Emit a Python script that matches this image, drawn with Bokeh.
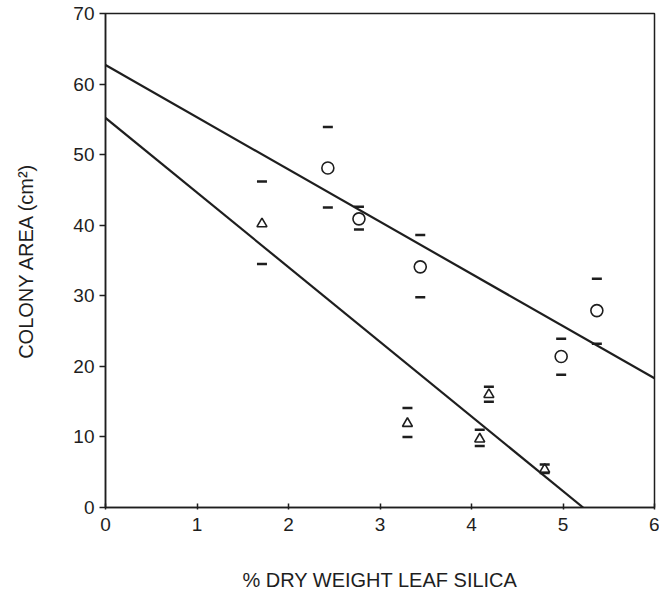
from bokeh.plotting import figure
from bokeh.embed import file_html
from bokeh.resources import INLINE
from bokeh.models import Range1d, FixedTicker

# Circle series (open circles)
circ_x = [2.43, 2.77, 3.44, 4.98, 5.37]
circ_y = [48.1, 40.9, 34.1, 21.4, 27.9]
circ_hi = [53.9, 42.6, 38.6, 23.9, 32.4]
circ_lo = [42.5, 39.4, 29.8, 18.8, 23.2]

# Triangle series (open triangles)
tri_x = [1.71, 3.30, 4.09, 4.19, 4.80]
tri_y = [40.2, 11.9, 9.7, 16.0, 5.4]
tri_hi = [46.2, 14.1, 11.0, 17.1, 6.1]
tri_lo = [34.5, 10.0, 8.7, 15.0, 4.9]

# Regression lines
upper_line_x = [0, 6]
upper_line_y = [62.7, 18.3]
lower_line_x = [0, 5.22]
lower_line_y = [55.2, 0]

x_ticks = [0, 1, 2, 3, 4, 5, 6]
y_ticks = [0, 10, 20, 30, 40, 50, 60, 70]

ink = "#1e1e1e"
font = "Liberation Sans"

p = figure(frame_width=549, frame_height=494, output_backend="svg",
           toolbar_location=None, x_range=Range1d(0, 6), y_range=Range1d(0, 70),
           min_border_left=105, min_border_top=13, min_border_right=5, min_border_bottom=85)
p.background_fill_color = "white"
p.border_fill_color = "white"
p.outline_line_color = ink
p.outline_line_width = 1.5
p.grid.visible = False

p.line(upper_line_x, upper_line_y, line_color=ink, line_width=2.2)
p.line(lower_line_x, lower_line_y, line_color=ink, line_width=2.2)

p.scatter(circ_x, circ_y, marker="circle", size=12, fill_color="white",
          line_color=ink, line_width=1.6)
p.scatter(circ_x, circ_hi, marker="dash", size=10, line_color=ink, line_width=2.5)
p.scatter(circ_x, circ_lo, marker="dash", size=10, line_color=ink, line_width=2.5)

p.scatter(tri_x, tri_y, marker="triangle", size=10, fill_color="white",
          line_color=ink, line_width=1.6)
p.scatter(tri_x, tri_hi, marker="dash", size=10, line_color=ink, line_width=2.5)
p.scatter(tri_x, tri_lo, marker="dash", size=10, line_color=ink, line_width=2.5)

p.xaxis.ticker = FixedTicker(ticks=x_ticks)
p.yaxis.ticker = FixedTicker(ticks=y_ticks)
p.xaxis.axis_label = "% DRY WEIGHT LEAF SILICA"
p.yaxis.axis_label = "COLONY AREA (cm²)"

for ax in [p.xaxis[0], p.yaxis[0]]:
    ax.axis_line_color = ink
    ax.axis_line_width = 1.5
    ax.major_tick_line_color = ink
    ax.major_tick_line_width = 1.5
    ax.minor_tick_line_color = None
    ax.major_label_text_font = font
    ax.major_label_text_font_size = "19px"
    ax.major_label_text_color = ink
    ax.axis_label_text_font = font
    ax.axis_label_text_font_size = "20px"
    ax.axis_label_text_font_style = "normal"
    ax.axis_label_text_color = ink

p.xaxis.major_tick_in = 4
p.xaxis.major_tick_out = 2
p.xaxis.major_label_standoff = 8
p.xaxis.axis_label_standoff = 35
p.yaxis.major_tick_in = 0
p.yaxis.major_tick_out = 6
p.yaxis.major_label_standoff = 5
p.yaxis.axis_label_standoff = 33

open("out.html", "w").write(file_html(p, INLINE))
